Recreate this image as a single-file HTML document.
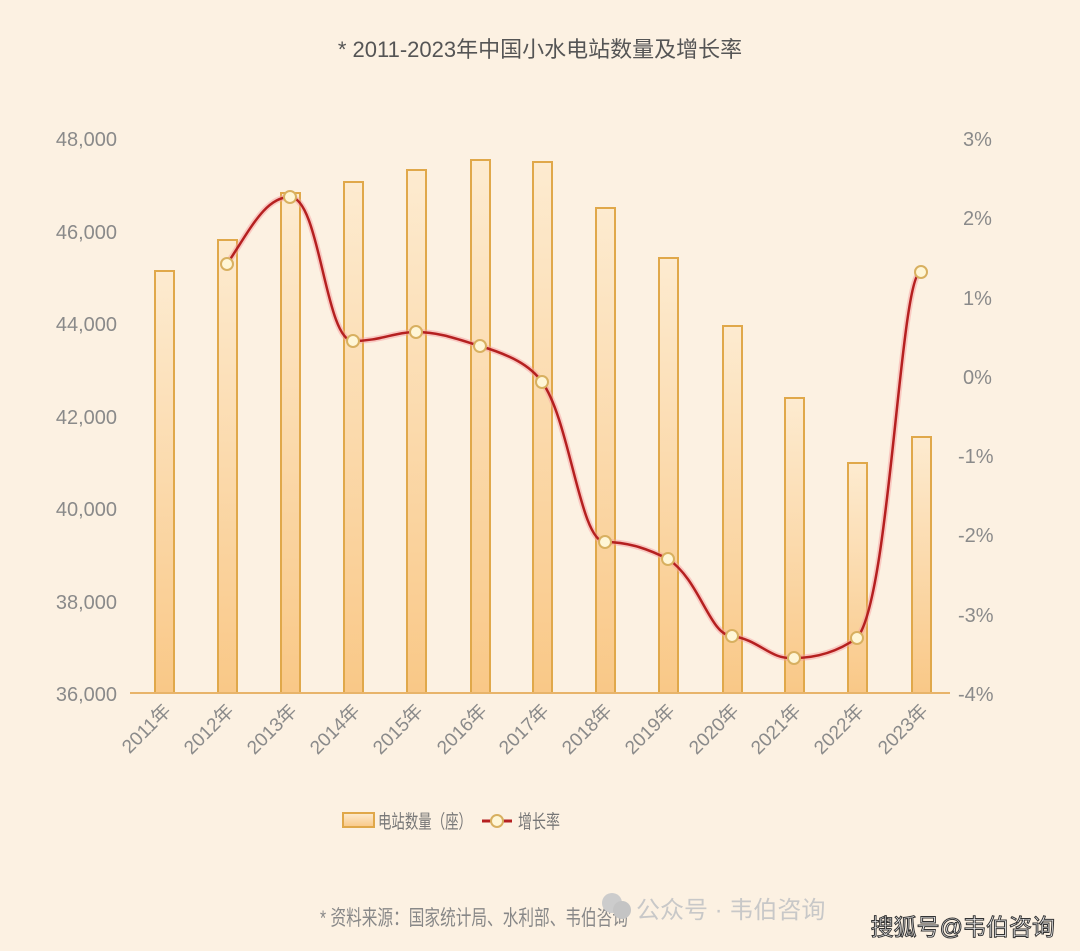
<!DOCTYPE html>
<html><head><meta charset="utf-8"><style>
body{margin:0;background:#fcf1e2;}
svg{display:block;font-family:"Liberation Sans","Noto Sans CJK SC",sans-serif;}
</style></head><body>
<svg width="1080" height="951" viewBox="0 0 1080 951" xmlns="http://www.w3.org/2000/svg">
<defs>
<linearGradient id="g" x1="0" y1="0" x2="0" y2="1">
<stop offset="0" stop-color="#fdebd0"/><stop offset="1" stop-color="#f9c887"/>
</linearGradient>
</defs>
<rect width="1080" height="951" fill="#fcf1e2"/>
<text x="540" y="57" text-anchor="middle" font-size="22" fill="#555">* 2011-2023年中国小水电站数量及增长率</text>
<g font-size="20" fill="#8a8a8a" text-anchor="end">
<text x="117" y="146">48,000</text><text x="117" y="239">46,000</text><text x="117" y="331">44,000</text>
<text x="117" y="424">42,000</text><text x="117" y="516">40,000</text><text x="117" y="609">38,000</text><text x="117" y="701">36,000</text>
</g>
<g font-size="20" fill="#8a8a8a" text-anchor="start">
<text x="963" y="146">3%</text><text x="963" y="225">2%</text><text x="963" y="305">1%</text><text x="963" y="384">0%</text>
<text x="958" y="463">-1%</text><text x="958" y="542">-2%</text><text x="958" y="622">-3%</text><text x="958" y="701">-4%</text>
</g>
<g fill="url(#g)" stroke="#e0a84a" stroke-width="2">
<rect x="155" y="271" width="19" height="422"/>
<rect x="218" y="240" width="19" height="453"/>
<rect x="281" y="193" width="19" height="500"/>
<rect x="344" y="182" width="19" height="511"/>
<rect x="407" y="170" width="19" height="523"/>
<rect x="471" y="160" width="19" height="533"/>
<rect x="533" y="162" width="19" height="531"/>
<rect x="596" y="208" width="19" height="485"/>
<rect x="659" y="258" width="19" height="435"/>
<rect x="723" y="326" width="19" height="367"/>
<rect x="785" y="398" width="19" height="295"/>
<rect x="848" y="463" width="19" height="230"/>
<rect x="912" y="437" width="19" height="256"/>
</g>
<line x1="130" y1="693" x2="950" y2="693" stroke="#e8b46a" stroke-width="2"/>
<path d="M227,264 C250,230 265,197 290,197 C320,197 325,341 353,341 C380,341 395,332 416,332 C440,332 460,340 480,346 C510,355 530,365 542,382 C570,420 580,542 605,542 C630,542 650,550 668,559 C700,580 710,636 732,636 C760,640 770,660 794,658 C820,658 840,650 857,638 C890,600 900,272 921,272" fill="none" stroke="#f5a0a0" stroke-width="6" opacity="0.5"/>
<path d="M227,264 C250,230 265,197 290,197 C320,197 325,341 353,341 C380,341 395,332 416,332 C440,332 460,340 480,346 C510,355 530,365 542,382 C570,420 580,542 605,542 C630,542 650,550 668,559 C700,580 710,636 732,636 C760,640 770,660 794,658 C820,658 840,650 857,638 C890,600 900,272 921,272" fill="none" stroke="#b52020" stroke-width="2.5"/>
<g fill="#fff6d6" stroke="#d8b060" stroke-width="2">
<circle cx="227" cy="264" r="6"/><circle cx="290" cy="197" r="6"/><circle cx="353" cy="341" r="6"/><circle cx="416" cy="332" r="6"/>
<circle cx="480" cy="346" r="6"/><circle cx="542" cy="382" r="6"/><circle cx="605" cy="542" r="6"/><circle cx="668" cy="559" r="6"/>
<circle cx="732" cy="636" r="6"/><circle cx="794" cy="658" r="6"/><circle cx="857" cy="638" r="6"/><circle cx="921" cy="272" r="6"/>
</g>
<g font-size="19" fill="#8a8a8a" text-anchor="end">
<text transform="translate(172,712) rotate(-45)">2011年</text>
<text transform="translate(235,712) rotate(-45)">2012年</text>
<text transform="translate(298,712) rotate(-45)">2013年</text>
<text transform="translate(361,712) rotate(-45)">2014年</text>
<text transform="translate(424,712) rotate(-45)">2015年</text>
<text transform="translate(488,712) rotate(-45)">2016年</text>
<text transform="translate(550,712) rotate(-45)">2017年</text>
<text transform="translate(613,712) rotate(-45)">2018年</text>
<text transform="translate(676,712) rotate(-45)">2019年</text>
<text transform="translate(740,712) rotate(-45)">2020年</text>
<text transform="translate(802,712) rotate(-45)">2021年</text>
<text transform="translate(865,712) rotate(-45)">2022年</text>
<text transform="translate(929,712) rotate(-45)">2023年</text>
</g>
<rect x="343" y="813" width="31" height="14" fill="url(#g)" stroke="#e0a84a" stroke-width="2"/>
<text x="378" y="828" font-size="19" fill="#777" textLength="94" lengthAdjust="spacingAndGlyphs">电站数量（座）</text>
<line x1="482" y1="821" x2="512" y2="821" stroke="#b52020" stroke-width="3"/>
<circle cx="497" cy="821" r="6" fill="#fff6d6" stroke="#d8b060" stroke-width="2"/>
<text x="518" y="828" font-size="19" fill="#777" textLength="42" lengthAdjust="spacingAndGlyphs">增长率</text>
<text x="320" y="925" font-size="21" fill="#888" textLength="308" lengthAdjust="spacingAndGlyphs">* 资料来源：国家统计局、水利部、韦伯咨询</text>
<circle cx="612" cy="903" r="10" fill="#ccc"/><circle cx="622" cy="910" r="9" fill="#c4c4c4"/>
<text x="636" y="918" font-size="24" fill="#c8c8c8">公众号 · 韦伯咨询</text>
<text x="1055" y="935" font-size="23" fill="#fff" stroke="#333" stroke-width="1" text-anchor="end">搜狐号@韦伯咨询</text>
</svg>
</body></html>
